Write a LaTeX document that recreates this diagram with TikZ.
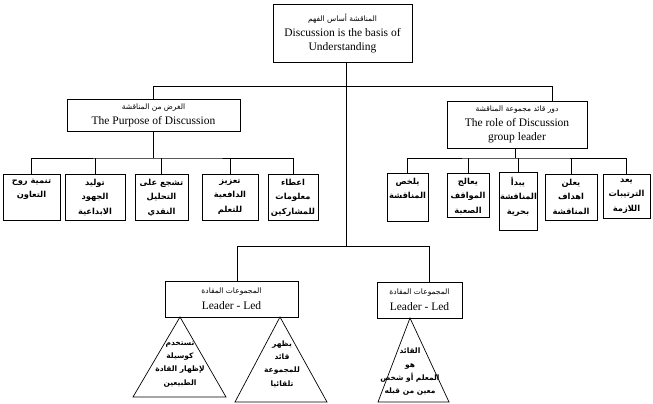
\documentclass[tikz,border=0pt]{standalone}
\usepackage{fontspec}
\setmainfont{Liberation Serif}
\newfontfamily\arabicfont[Script=Arabic]{DejaVu Sans}
\TeXXeTstate=1
\newcommand{\RR}[1]{\beginR #1\endR}
\newcommand{\arh}[1]{{\arabicfont\fontsize{7.5}{9}\selectfont\beginR #1\endR}}
\newcommand{\lfbox}[3]{\parbox[c][#2][t]{#1}{\centering\arabicfont\bfseries\fontsize{8.3}{14.5}\selectfont\vspace*{3.5pt}#3}}
\begin{document}
\begin{tikzpicture}[x=1pt,y=-1pt,
  box/.style={draw, line width=0.9pt, inner sep=1pt, align=center, font=\fontsize{11.5}{14}\selectfont},
  leaf/.style={draw, line width=0.9pt, inner sep=1pt, anchor=north},
  conn/.style={line width=0.7pt},
  tri/.style={line width=0.7pt},
  tritext/.style={inner sep=0pt, align=center, font=\arabicfont\bfseries\fontsize{7.5}{13.3}\selectfont}]
\useasboundingbox (0,0) rectangle (653,404);
% top
\node[box, minimum width=139pt, minimum height=58pt] (top) at (342.5,33)
  {\arh{المناقشة أساس الفهم}\\[1pt] Discussion is the basis of\\ Understanding};
% middle boxes
\node[box, minimum width=173pt, minimum height=32pt] (lm) at (153.5,115.5)
  {\arh{الغرض من المناقشة}\\[1pt] The Purpose of Discussion};
\node[box, minimum width=140pt, minimum height=47pt] (rm) at (517,124.5)
  {\arh{دور قائد مجموعة المناقشة}\\[1pt] The role of Discussion\\ group leader};
% left leaves
\node[leaf, minimum width=57pt] (l1) at (31.5,174) {\lfbox{55pt}{44pt}{\RR{تنمية روح}\\\RR{التعاون}}};
\node[leaf, minimum width=60pt] (l2) at (95,174) {\lfbox{58pt}{44pt}{\RR{توليد}\\\RR{الجهود}\\\RR{الابداعية}}};
\node[leaf, minimum width=53pt] (l3) at (161.5,174) {\lfbox{51pt}{44pt}{\RR{تشجع على}\\\RR{التحليل}\\\RR{النقدي}}};
\node[leaf, minimum width=56pt] (l4) at (230,174) {\lfbox{54pt}{44pt}{\RR{تعزيز}\\\RR{الدافعية}\\\RR{للتعلم}}};
\node[leaf, minimum width=50pt] (l5) at (293,174) {\lfbox{48pt}{44pt}{\RR{اعطاء}\\\RR{معلومات}\\\RR{للمشاركين}}};
% right leaves
\node[leaf, minimum width=41pt] (r1) at (407.5,173) {\lfbox{39pt}{46pt}{\RR{يلخص}\\\RR{المناقشة}}};
\node[leaf, minimum width=42pt] (r2) at (468,173) {\lfbox{40pt}{42pt}{\RR{يعالج}\\\RR{المواقف}\\\RR{الصعبة}}};
\node[leaf, minimum width=38pt] (r3) at (518,172) {\lfbox{36pt}{56pt}{\RR{يبدأ}\\\RR{المناقشة}\\\RR{بحرية}}};
\node[leaf, minimum width=52pt] (r4) at (571,174) {\lfbox{50pt}{44pt}{\RR{يعلن}\\\RR{اهداف}\\\RR{المناقشة}}};
\node[leaf, minimum width=47pt] (r5) at (626.5,174) {\lfbox{45pt}{42pt}{\RR{يعد}\\\RR{الترتيبات}\\\RR{اللازمة}}};
% bottom boxes
\node[box, minimum width=133pt, minimum height=36pt] (bl) at (231.5,299)
  {\arh{المجموعات المقادة}\\[2pt] Leader - Led};
\node[box, minimum width=85pt, minimum height=36pt] (br) at (419.5,300)
  {\arh{المجموعات المقادة}\\[2pt] Leader - Led};
% connectors top level
\coordinate (jl) at (153,86);
\coordinate (jr) at (552,86);
\coordinate (jc) at (346,246);
\draw[conn] (top.south -| jc) -- (jc);
\draw[conn] (lm.north |- jl) -| (jr |- rm.north);
\draw[conn] (jl) -- (lm.north |- jl) -- (lm.north);
% left leaves
\coordinate (gl) at (153,158);
\draw[conn] (lm.south) -- (lm.south |- gl);
\draw[conn] (l1.north) |- (gl) -| (l5.north);
\draw[conn] (gl -| l2.north) -- (l2.north);
\draw[conn] (gl -| l3.north) -- (l3.north);
\draw[conn] (gl -| l4.north) -- (l4.north);
% right leaves
\coordinate (gr) at (515,158);
\draw[conn] (rm.south -| gr) -- (gr);
\draw[conn] (r1.north) |- (gr) -| (r5.north);
\draw[conn] (gr -| r2.north) -- (r2.north);
\draw[conn] (gr -| r3.north) -- (r3.north);
\draw[conn] (gr -| r4.north) -- (r4.north);
% bottom
\coordinate (kl) at (237,246);
\coordinate (kr) at (429,246);
\draw[conn] (kl |- bl.north) -- (kl) -- (kr) -- (kr |- br.north);
% triangles
\coordinate (t1) at (180,317);
\coordinate (t2) at (280,317);
\coordinate (t3) at (410,318);
\draw[tri] (t1) -- (133,397) -- (226,397) -- cycle;
\draw[tri] (t2) -- (235,402) -- (327,402) -- cycle;
\draw[tri] (t3) -- (378,402) -- (449,402) -- cycle;
\node[tritext] (x1) at (180,364) {\RR{تستخدم}\\\RR{كوسيلة}\\\RR{لإظهار القادة}\\\RR{الطبيعين}};
\node[tritext] (x2) at (282,364) {\RR{يظهر}\\\RR{قائد}\\\RR{للمجموعة}\\\RR{تلقائيا}};
\node[tritext] (x3) at (410,372) {\RR{القائد}\\\RR{هو}\\\RR{المعلم أو شخص}\\\RR{معين من قبله}};
\end{tikzpicture}
\end{document}
